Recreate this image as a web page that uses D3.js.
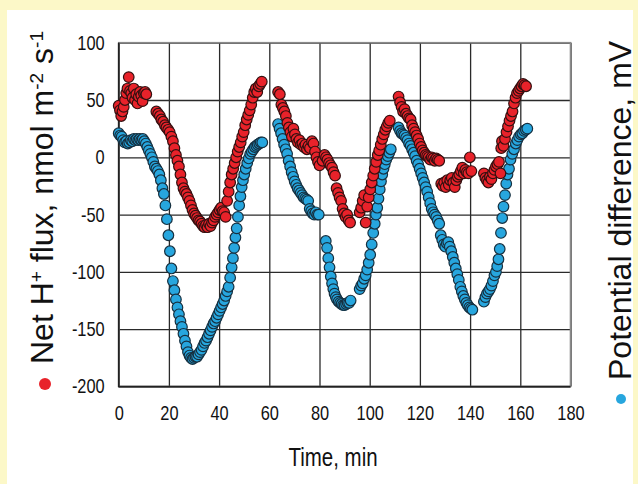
<!DOCTYPE html>
<html>
<head>
<meta charset="utf-8">
<script src="https://cdn.jsdelivr.net/npm/d3@7"></script>
<style>
  body { margin: 0; background: #fcf8c8; }
  .tick text { font-family: "Liberation Sans", Arial, sans-serif; font-size: 20px; fill: #111; }
  .label { font-family: "Liberation Sans", Arial, sans-serif; fill: #111; }
</style>
</head>
<body>
<div id="chart"></div>
<script>
// Net H+ flux (red)
const fluxTime = [
  0, 0.5, 1, 1.5, 2, 2.5, 3, 3.5, 4, 4.5, 5, 5.5, 6, 6.5, 7, 7.5, 8, 8.5, 9, 9.5, 10, 10.5, 11,
  15, 15.7, 16.4, 17, 17.7, 18.4, 19, 19.7, 20.3, 21, 21.6, 22.2, 22.8, 23.4, 24, 24.6, 25.2, 25.8, 26.4, 27, 27.6, 28.2, 28.8, 29.4, 30, 30.6, 31.2, 31.8, 32.4, 33, 33.6, 34.2, 34.8, 35.4, 36, 36.6, 37.2, 37.8, 38.4, 39, 39.6, 40.2, 40.8, 41.4, 42, 42.6, 43.2, 43.8, 44.4, 45, 45.6, 46.2, 46.8, 47.4, 48, 48.6, 49.2, 49.8, 50.4, 51, 51.6, 52.2, 52.8, 53.4, 54, 54.6, 55.2, 55.8, 56.4, 57,
  63.5, 64.2, 64.8, 65.4, 66, 66.6, 67.2, 67.8, 68.4, 69, 69.6, 70.2, 70.8, 71.4, 72, 72.6, 73.2, 73.8, 74.4, 75, 75.6, 76.2, 77, 77.6, 78.2, 78.8, 79.4, 80, 81.2, 82, 82.6, 83.2, 83.8, 84.4, 85, 85.6, 86.2, 86.8, 87.4, 88, 88.6, 89.2, 89.8, 90.4, 91, 91.6, 92.2,
  96, 96.6, 97.2, 97.8, 98.4, 99, 99.6, 100.2, 100.8, 101.4, 102, 102.6, 103.2, 103.8, 104.4, 105, 105.6, 106.2, 106.8, 107.4, 108,
  111.5, 112.1, 112.7, 113.3, 113.9, 114.5, 115.1, 115.7, 116.3, 116.9, 117.5, 118.1, 118.7, 119.3, 119.9, 120.5, 121.1, 121.7, 122.3, 122.9, 123.5, 124.1, 124.7, 125.3, 125.9, 126.5, 127.1, 127.7,
  128.5, 129.1, 129.7, 130.3, 130.9, 131.5, 132.1, 132.7, 133.3, 133.9, 134.5, 135.1, 135.7, 136.3, 136.9, 137.5, 138.1, 138.7, 139.3, 139.9, 140.5,
  145.5, 146.1, 146.7, 147.3, 147.9, 148.5, 149.1, 149.7, 150.3, 150.9, 151.5, 152.1, 152.4, 152.7, 153.3, 153.9, 154.5, 155.1, 155.7, 156.3, 156.9, 157.5, 158.1, 158.7, 159.3, 159.9, 160.5, 161.1, 161.7, 162.3
];
const fluxValue = [
  45, 41, 36, 40, 44, 50, 56, 60, 70, 58, 56, 52, 60, 50, 55, 47, 53, 57, 54, 49, 56, 57, 55,
  40, 38, 36, 33, 31, 28, 26, 24, 22, 18, 14, 8, 2, -3, -8, -15, -22, -27, -30, -32, -35, -38, -42, -46, -49, -51, -53, -55, -56, -58, -60, -61, -59, -61, -58, -60, -57, -55, -52, -50, -48, -46, -44, -47, -48, -52, -38, -30, -22, -15, -10, -5, 0, 5, 9, 13, 18, 22, 28, 33, 37, 41, 46, 52, 57, 60, 57, 62, 64, 66,
  57, 55, 46, 43, 40, 36, 30, 26, 22, 18, 25, 20, 16, 13, 15, 11, 12, 9, 11, 7, 10, 8, 14, 12, 5, 0, -4, -7, -3, 2, 0, -2, -5, -7, -9, -13, -16, -27, -31, -35, -38, -45, -49, -52, -50, -55, -57,
  -48, -44, -38, -33, -57, -43, -35, -28, -22, -16, -10, -4, 2, 6, 11, 16, 20, 24, 27, 30, 32,
  53, 48, 44, 40, 42, 38, 36, 34, 33, 28, 25, 22, 19, 16, 12, 9, 6, 4, 2, 1, 0, -2, 0, -1, -3, -1, -2, -3,
  -23, -25, -22, -26, -20, -24, -20, -18, -22, -26, -20, -17, -15, -12, -9, -14, -11, -13, -14, 0, -12,
  -14, -18, -20, -22, -17, -19, -14, -11, -8, -6, -4, -14, 8, 14, 10, 16, 22, 27, 32, 36, 40, 47, 52, 56, 58, 60, 62, 64, 63, 62
];

// Potential difference (blue)
const pdTime = [
  0, 0.6, 1.2, 1.8, 2.4, 3, 3.6, 4.2, 4.8, 5.4, 6, 6.6, 7.2, 7.8, 8.4, 9, 9.6, 10.2, 10.8, 11.4, 12, 12.6, 13.2, 13.8, 14.4, 15, 15.6, 16.2, 16.8, 17.4, 18, 18.6, 19.2, 19.8, 20.4, 21, 21.6, 22.2, 22.8, 23.4, 24, 24.6, 25.2, 25.8, 26.4, 27, 27.6, 28.2, 28.8, 29.4, 30, 30.6, 31.2, 31.8, 32.4, 33, 33.6, 34.2, 34.8, 35.4, 36, 36.6, 37.2, 37.8, 38.4, 39, 39.6, 40.2, 40.8, 41.4, 42, 42.6, 43.2, 43.8, 44.4, 45, 45.5, 46, 46.5, 47, 47.5, 48, 48.5, 49, 49.5, 50, 50.6, 51.2, 51.8, 52.4, 53, 53.6, 54.2, 54.8, 55.4, 56, 56.6, 57.2,
  63.5, 64.1, 64.7, 65.3, 65.9, 66.5, 67.1, 67.7, 68.3, 68.9, 69.5, 70.1, 70.7, 71.3, 71.9, 72.5, 73.1, 73.7, 74.3, 74.9, 75.5, 76.1, 76.7, 77.3, 77.9, 78.5, 79.1, 79.7,
  82.5, 83, 83.5, 84, 84.5, 85, 85.5, 86, 86.5, 87, 87.6, 88.2, 88.8, 89.4, 90, 90.6, 91.2, 91.8, 92.4,
  96, 96.6, 97.2, 97.8, 98.4, 99, 99.6, 100.2, 100.8, 101.4, 102, 102.5, 103, 103.5, 104, 104.5, 105, 105.5, 106, 106.6, 107.2, 107.8, 108.4,
  111.5, 112.1, 112.7, 113.3, 113.9, 114.5, 115.1, 115.7, 116.3, 116.9, 117.5, 118.1, 118.7, 119.3, 119.9, 120.5, 121.1, 121.7, 122.3, 122.9, 123.5, 124.1, 124.7, 125.3, 125.9, 126.5, 127.1, 127.7, 128.3, 128.9, 129.5, 130.1, 130.7, 131.3, 131.9, 132.5, 133.1, 133.7, 134.3, 134.9, 135.5, 136.1, 136.7, 137.3, 137.9, 138.5, 139.1, 139.7, 140.3, 140.9,
  145.5, 146.1, 146.7, 147.3, 147.9, 148.5, 149.1, 149.7, 150.3, 150.8, 151.3, 151.8, 152.3, 152.8, 153.3, 153.9, 154.4, 154.9, 155.5, 156.1, 156.8, 157.5, 158.2, 158.8, 159.5, 160.2, 160.8, 161.5, 162.2, 162.8
];
const pdValue = [
  21, 19, 18, 15, 13, 14, 12, 13, 15, 14, 16, 15, 16, 15, 16, 15, 16, 14, 12, 9, 6, 3, 0, -4, -8, -10, -12, -15, -20, -27, -32, -42, -54, -68, -82, -97, -108, -116, -124, -131, -137, -143, -148, -154, -160, -165, -170, -173, -175, -176, -175, -174, -174, -172, -170, -168, -165, -162, -160, -157, -154, -151, -148, -145, -143, -140, -137, -134, -131, -128, -125, -121, -117, -113, -105, -96, -88, -79, -70, -62, -52, -42, -34, -26, -20, -15, -10, -5, -1, 3, 5, 7, 9, 10, 11, 12, 13, 13,
  29, 25, 21, 16, 11, 7, 3, -3, -8, -13, -17, -21, -24, -27, -29, -31, -33, -35, -36, -37, -38, -45, -47, -49, -50, -48, -50, -50,
  -73, -79, -88, -96, -104, -110, -115, -119, -122, -124, -126, -127, -128, -129, -129, -128, -127, -127, -125,
  -115, -112, -110, -106, -103, -98, -92, -85, -76, -66, -58, -50, -44, -36, -28, -21, -15, -10, -6, -2, 1, 4, 7,
  26, 23, 21, 20, 19, 17, 15, 12, 10, 7, 4, 1, -3, -6, -10, -14, -18, -22, -26, -30, -35, -40, -45, -48, -50, -52, -55, -58, -68, -72, -76, -78, -75, -74, -78, -82, -87, -92, -97, -102, -107, -113, -117, -121, -124, -127, -129, -131, -132, -133,
  -126, -122, -119, -117, -115, -112, -108, -103, -100, -95, -89, -80, -66, -53, -43, -33, -23, -15, -10, -2, 3, 7, 12, 15, 18, 20, 21, 23, 24, 25
];

const xTicks = [0, 20, 40, 60, 80, 100, 120, 140, 160, 180];
const yTicks = [-200, -150, -100, -50, 0, 50, 100];

const width = 638, height = 484;
const plot = { left: 118.7, right: 570.5, top: 42.7, bottom: 386.5 };
const narrow = 0.82;

const svg = d3.select('#chart').append('svg')
  .attr('width', width)
  .attr('height', height);

svg.append('rect').attr('width', width).attr('height', height).attr('fill', '#fcf8c8');
svg.append('rect').attr('x', 7).attr('y', 10).attr('width', 626).attr('height', height - 10).attr('fill', '#fff');

const x = d3.scaleLinear().domain([0, 180]).range([plot.left, plot.right]);
const y = d3.scaleLinear().domain([-200, 100]).range([plot.bottom, plot.top]);

// squeeze text horizontally, like a narrow font
const squeeze = (sel) => {
  sel.each(function () {
    const t = d3.select(this);
    const tx = +t.attr('x') || 0;
    t.attr('x', tx / narrow).attr('transform', `scale(${narrow},1)`);
  });
};

// grid + tick labels
const gx = svg.append('g')
  .attr('transform', `translate(0,${plot.bottom})`)
  .call(d3.axisBottom(x).tickValues(xTicks).tickFormat((d) => String(d)).tickSize(-(plot.bottom - plot.top)).tickPadding(19));
const gy = svg.append('g')
  .attr('transform', `translate(${plot.left},0)`)
  .call(d3.axisLeft(y).tickValues(yTicks).tickFormat((d) => String(d)).tickSize(-(plot.right - plot.left)).tickPadding(14));

[gx, gy].forEach((g) => {
  g.select('.domain').remove();
  g.selectAll('.tick line').attr('stroke', '#2a2a2a').attr('stroke-width', 1.3);
  squeeze(g.selectAll('.tick text'));
});

// frame
svg.append('rect')
  .attr('x', plot.left).attr('y', plot.top)
  .attr('width', plot.right - plot.left).attr('height', plot.bottom - plot.top)
  .attr('fill', 'none').attr('stroke', '#8a8a8a').attr('stroke-width', 1.6);
svg.append('path')
  .attr('d', `M${plot.left},${plot.top}V${plot.bottom}H${plot.right}`)
  .attr('fill', 'none').attr('stroke', '#222').attr('stroke-width', 1.6);

const drawSeries = (times, values, fill, stroke) => {
  svg.append('g')
    .selectAll('circle')
    .data(d3.zip(times, values))
    .enter()
    .append('circle')
    .attr('cx', (d) => x(d[0]))
    .attr('cy', (d) => y(d[1]))
    .attr('r', 5.3)
    .attr('fill', fill)
    .attr('stroke', stroke)
    .attr('stroke-width', 1.2);
};

drawSeries(pdTime, pdValue, '#27a6de', '#163040');
drawSeries(fluxTime, fluxValue, '#e8222a', '#341010');

// x label
const xl = svg.append('g').attr('transform', 'translate(333,466)');
xl.append('text')
  .attr('class', 'label')
  .attr('text-anchor', 'middle')
  .style('font-size', '25px')
  .text('Time, min')
  .call(squeeze);

// left label
svg.append('circle').attr('cx', 45).attr('cy', 384).attr('r', 6).attr('fill', '#e8222a');
const left = svg.append('text')
  .attr('class', 'label')
  .attr('transform', 'translate(53,364) rotate(-90)')
  .style('font-size', '32px');
left.append('tspan').text('Net H');
left.append('tspan').attr('baseline-shift', 'super').style('font-size', '19px').text('+');
left.append('tspan').text(' flux, nmol m');
left.append('tspan').attr('baseline-shift', 'super').style('font-size', '19px').text('-2');
left.append('tspan').text(' s');
left.append('tspan').attr('baseline-shift', 'super').style('font-size', '19px').text('-1');

// right label
svg.append('circle').attr('cx', 621).attr('cy', 399).attr('r', 5).attr('fill', '#27a6de');
svg.append('text')
  .attr('class', 'label')
  .attr('transform', 'translate(631,380) rotate(-90)')
  .style('font-size', '32px')
  .text('Potential difference, mV');
</script>
</body>
</html>
